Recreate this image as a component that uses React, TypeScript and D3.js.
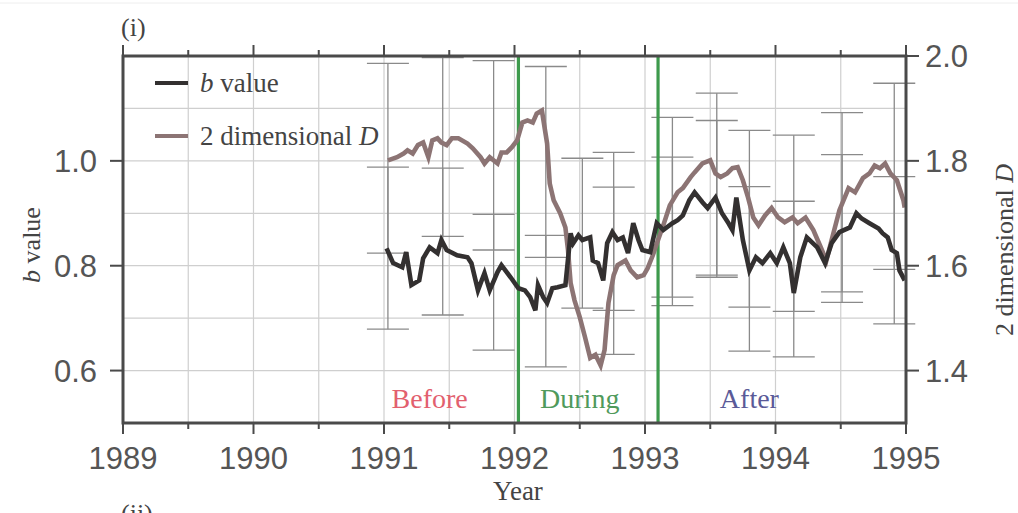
import React from "react";
import * as d3 from "d3";

const bYears = [1991.02,1991.07,1991.14,1991.17,1991.21,1991.27,1991.30,1991.35,1991.41,1991.44,1991.48,1991.56,1991.64,1991.67,1991.72,1991.77,1991.81,1991.87,1991.90,1991.97,1992.03,1992.08,1992.12,1992.16,1992.18,1992.22,1992.25,1992.29,1992.33,1992.39,1992.43,1992.45,1992.49,1992.52,1992.58,1992.60,1992.64,1992.68,1992.71,1992.75,1992.79,1992.83,1992.87,1992.91,1992.95,1992.98,1993.04,1993.09,1993.14,1993.21,1993.25,1993.29,1993.34,1993.38,1993.44,1993.48,1993.54,1993.59,1993.64,1993.67,1993.70,1993.75,1993.80,1993.85,1993.90,1993.96,1994.01,1994.06,1994.11,1994.14,1994.19,1994.24,1994.32,1994.38,1994.43,1994.49,1994.57,1994.62,1994.66,1994.72,1994.79,1994.82,1994.86,1994.89,1994.93,1994.95,1994.99];
const bValues = [0.833,0.805,0.797,0.826,0.763,0.772,0.814,0.835,0.824,0.849,0.830,0.820,0.816,0.805,0.753,0.786,0.753,0.788,0.801,0.778,0.757,0.753,0.740,0.715,0.763,0.740,0.729,0.757,0.759,0.763,0.862,0.843,0.858,0.849,0.854,0.810,0.805,0.772,0.843,0.864,0.849,0.854,0.824,0.881,0.849,0.830,0.826,0.881,0.868,0.881,0.887,0.896,0.925,0.940,0.921,0.910,0.930,0.900,0.881,0.868,0.930,0.849,0.791,0.816,0.805,0.824,0.805,0.835,0.805,0.748,0.816,0.854,0.835,0.805,0.843,0.864,0.873,0.900,0.890,0.881,0.871,0.862,0.854,0.830,0.824,0.791,0.772];

const dYears = [1991.03,1991.10,1991.15,1991.18,1991.22,1991.26,1991.30,1991.34,1991.37,1991.41,1991.44,1991.48,1991.52,1991.57,1991.64,1991.68,1991.74,1991.77,1991.81,1991.87,1991.90,1991.94,1991.98,1992.02,1992.06,1992.10,1992.14,1992.17,1992.21,1992.25,1992.27,1992.30,1992.35,1992.39,1992.41,1992.43,1992.46,1992.50,1992.54,1992.58,1992.62,1992.66,1992.69,1992.72,1992.76,1992.79,1992.85,1992.89,1992.94,1992.99,1993.02,1993.06,1993.10,1993.14,1993.19,1993.25,1993.29,1993.35,1993.38,1993.44,1993.50,1993.54,1993.58,1993.63,1993.67,1993.71,1993.75,1993.79,1993.83,1993.87,1993.92,1993.97,1994.02,1994.07,1994.13,1994.17,1994.23,1994.29,1994.34,1994.39,1994.43,1994.49,1994.56,1994.61,1994.67,1994.72,1994.76,1994.80,1994.84,1994.88,1994.93,1994.98,1994.99];
const dValues = [1.801,1.807,1.814,1.820,1.814,1.830,1.835,1.807,1.839,1.843,1.835,1.830,1.843,1.843,1.833,1.824,1.807,1.795,1.807,1.795,1.816,1.816,1.826,1.839,1.873,1.877,1.873,1.890,1.896,1.833,1.757,1.725,1.700,1.673,1.630,1.567,1.534,1.502,1.464,1.424,1.430,1.410,1.439,1.529,1.582,1.601,1.610,1.591,1.578,1.582,1.595,1.620,1.649,1.677,1.715,1.740,1.748,1.769,1.778,1.795,1.801,1.776,1.769,1.776,1.786,1.788,1.763,1.730,1.692,1.677,1.696,1.710,1.692,1.683,1.692,1.681,1.692,1.668,1.639,1.610,1.649,1.706,1.748,1.740,1.767,1.776,1.791,1.786,1.795,1.776,1.763,1.725,1.711];

const errYears = [1991.03,1991.45,1991.84,1992.24,1992.52,1992.76,1993.21,1993.55,1993.80,1994.14,1994.51,1994.91];
const bErrLow = [0.679,0.706,0.639,0.607,0.719,0.715,0.724,0.782,0.637,0.626,0.730,0.689];
const bErrHigh = [0.988,0.986,0.898,0.858,1.005,1.016,1.007,1.077,0.951,0.923,1.012,0.970];
const dErrLow: (number | null)[] = [1.624,1.656,1.630,1.616,null,1.431,1.540,1.578,1.521,1.513,1.550,1.593];
const dErrHigh: (number | null)[] = [1.986,1.997,1.991,1.980,null,1.750,1.883,1.929,1.858,1.849,1.892,1.948];

const yearTicks = [1989,1990,1991,1992,1993,1994,1995];
const halfYearGrid = [1989.5,1990,1990.5,1991,1991.5,1992,1992.5,1993,1993.5,1994,1994.5];
const bGrid = [0.6,0.7,0.8,0.9,1.0,1.1];
const bTicks = [0.6,0.8,1.0];
const dTicks = [1.4,1.6,1.8,2.0];
const phaseBoundaries = [1992.03,1993.1];
const phaseNames = ["Before","During","After"];
const phaseCenters = [1991.35,1992.5,1993.8];
const phaseColors = ["#e2606e","#4f9a5c","#5a5a98"];

const W = 1018, H = 513;
const L = 123, R = 906, T = 56, B = 423;

export default function App() {
  const x = d3.scaleLinear().domain([1989, 1995]).range([L, R]);
  const yB = d3.scaleLinear().domain([0.5, 1.2]).range([B, T]);
  const yD = d3.scaleLinear().domain([1.3, 2.0]).range([B, T]);

  const bLine = d3.line<number>().x((_, i) => x(bYears[i])).y((v) => yB(v));
  const dLine = d3.line<number>().x((_, i) => x(dYears[i])).y((v) => yD(v));

  const serif = "'Liberation Serif', 'DejaVu Serif', serif";
  const sans = "'Liberation Sans', Arial, sans-serif";
  const axisCol = "#4a4a4a";
  const gridCol = "#cfcfcf";
  const errCol = "#8a8a8a";
  const cap = 21;

  const allTicks = d3.range(1989, 1995.01, 0.5);

  return (
    <div style={{ position: "absolute", left: 0, top: 0 }}>
      <svg width={W} height={H} style={{ display: "block", background: "#fff" }}>
        <line x1={0} x2={W} y1={3} y2={3} stroke="#eeeeee" strokeWidth={1} />
        {halfYearGrid.map((v) => (
          <line key={"gx" + v} x1={x(v)} x2={x(v)} y1={T} y2={B} stroke={gridCol} strokeWidth={1.2} />
        ))}
        {bGrid.map((v) => (
          <line key={"gy" + v} x1={L} x2={R} y1={yB(v)} y2={yB(v)} stroke={gridCol} strokeWidth={1.2} />
        ))}
        {errYears.map((yr, i) => {
          const cx = x(yr);
          const items: JSX.Element[] = [];
          const add = (lo: number, hi: number, k: string) => {
            items.push(
              <g key={k} stroke={errCol} strokeWidth={1.3}>
                <line x1={cx} x2={cx} y1={lo} y2={hi} />
                <line x1={cx - cap} x2={cx + cap} y1={lo} y2={lo} />
                <line x1={cx - cap} x2={cx + cap} y1={hi} y2={hi} />
              </g>
            );
          };
          add(yB(bErrLow[i]), yB(bErrHigh[i]), "b" + i);
          const dl = dErrLow[i], dh = dErrHigh[i];
          if (dl != null && dh != null) add(yD(dl), yD(dh), "d" + i);
          return <g key={"e" + i}>{items}</g>;
        })}
        {phaseBoundaries.map((v) => (
          <line key={"pb" + v} x1={x(v)} x2={x(v)} y1={T} y2={B} stroke="#3d9a4c" strokeWidth={3.2} />
        ))}
        <path d={dLine(dValues) || ""} fill="none" stroke="#8c7474" strokeWidth={4.6} strokeLinejoin="miter" />
        <path d={bLine(bValues) || ""} fill="none" stroke="#333030" strokeWidth={4.6} strokeLinejoin="miter" />
        <rect x={L} y={T} width={R - L} height={B - T} fill="none" stroke={axisCol} strokeWidth={3} />
        {allTicks.map((v) => {
          const major = Math.abs(v - Math.round(v)) < 1e-6;
          return (
            <g key={"xt" + v} stroke={axisCol} strokeWidth={2}>
              <line x1={x(v)} x2={x(v)} y1={B} y2={B + (major ? 11 : 6)} />
              <line x1={x(v)} x2={x(v)} y1={T} y2={T - (major ? 11 : 6)} />
            </g>
          );
        })}
        {yearTicks.map((v) => (
          <text key={"xl" + v} x={x(v)} y={469} textAnchor="middle" fontFamily={sans} fontSize={31} fill="#555">
            {v}
          </text>
        ))}
        {bTicks.map((v) => (
          <g key={"bt" + v}>
            <line x1={L - 13} x2={L} y1={yB(v)} y2={yB(v)} stroke={axisCol} strokeWidth={2} />
            <text x={97} y={yB(v) + 11} textAnchor="end" fontFamily={sans} fontSize={31} fill="#555">
              {v.toFixed(1)}
            </text>
          </g>
        ))}
        {dTicks.map((v) => (
          <g key={"dt" + v}>
            <line x1={R} x2={R + 13} y1={yD(v)} y2={yD(v)} stroke={axisCol} strokeWidth={2} />
            <text x={925} y={yD(v) + 11} textAnchor="start" fontFamily={sans} fontSize={31} fill="#555">
              {v.toFixed(1)}
            </text>
          </g>
        ))}
        <text transform="translate(40,245) rotate(-90)" textAnchor="middle" fontFamily={serif} fontSize={26} fill="#444">
          <tspan fontStyle="italic">b</tspan> value
        </text>
        <text transform="translate(1013,250) rotate(-90)" textAnchor="middle" fontFamily={serif} fontSize={26} fill="#444">
          2 dimensional <tspan fontStyle="italic">D</tspan>
        </text>
        <text x={518} y={500} textAnchor="middle" fontFamily={serif} fontSize={27} fill="#444">Year</text>
        <text x={121} y={36} fontFamily={serif} fontSize={26} fill="#444">(i)</text>
        <text x={121} y={522} fontFamily={serif} fontSize={26} fill="#444">(ii)</text>
        <line x1={155} x2={188} y1={83} y2={83} stroke="#333030" strokeWidth={4} />
        <text x={200} y={92} fontFamily={serif} fontSize={27} fill="#444">
          <tspan fontStyle="italic">b</tspan> value
        </text>
        <line x1={155} x2={188} y1={136} y2={136} stroke="#8c7474" strokeWidth={4} />
        <text x={200} y={145} fontFamily={serif} fontSize={27} fill="#444">
          2 dimensional <tspan fontStyle="italic">D</tspan>
        </text>
        {phaseNames.map((n, i) => (
          <text key={n} x={x(phaseCenters[i])} y={408} textAnchor="middle" fontFamily={serif} fontSize={28} fill={phaseColors[i]}>
            {n}
          </text>
        ))}
      </svg>
    </div>
  );
}
